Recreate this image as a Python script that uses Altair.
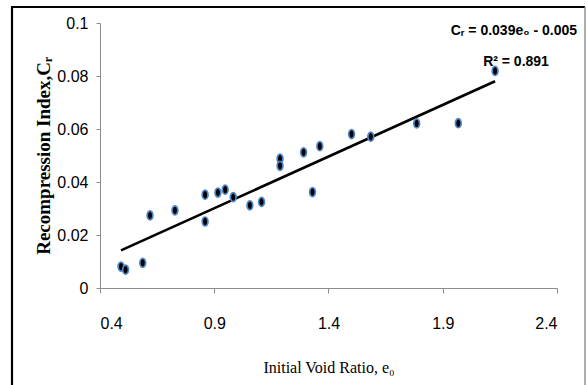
import altair as alt
import pandas as pd

# Initial void ratio and recompression index of the tested samples
e0 = [0.492, 0.512, 0.587, 0.619, 0.728, 0.860, 0.860, 0.916, 0.948, 0.983,
      1.056, 1.107, 1.188, 1.188, 1.291, 1.330, 1.362, 1.501, 1.585, 1.786,
      1.968, 2.129]
cr = [0.0081, 0.0069, 0.0095, 0.0274, 0.0293, 0.0352, 0.0251, 0.0360, 0.0371, 0.0343,
      0.0312, 0.0325, 0.0488, 0.0461, 0.0512, 0.0362, 0.0535, 0.0581, 0.0571, 0.0621,
      0.0622, 0.0819]

# Linear fit  Cr = slope * e0 + intercept
slope = 0.039
intercept = -0.005
eq_label = "Cᵣ = 0.039e₀ - 0.005"
r2_label = "R² = 0.891"

x_ticks = [0.4, 0.9, 1.4, 1.9, 2.4]
y_ticks = [0, 0.02, 0.04, 0.06, 0.08, 0.1]

pts = pd.DataFrame({"e0": e0, "cr": cr})
fit = pd.DataFrame({"e0": [min(e0), max(e0)]})
fit["cr"] = slope * fit["e0"] + intercept

W, H = 457, 265
LEFT, TOP = 100, 23

sans = "Liberation Sans, Arial, sans-serif"
serif = "Liberation Serif, Times New Roman, serif"

x_enc = alt.X("e0:Q", scale=alt.Scale(domain=[0.4, 2.4], nice=False, zero=False),
              axis=alt.Axis(values=x_ticks, format=".1f", title="Initial Void Ratio, e₀",
                            titleFont=serif, titleFontSize=16, titleFontWeight="normal",
                            titlePadding=28, labelPadding=22))
y_enc = alt.Y("cr:Q", scale=alt.Scale(domain=[0, 0.1], nice=False),
              axis=alt.Axis(values=y_ticks, format="~g", title="Recompression Index,Cᵣ",
                            titleFont=serif, titleFontSize=19, titleFontWeight="bold",
                            titlePadding=3, labelPadding=8))

trend = alt.Chart(fit).mark_line(color="black", strokeWidth=2.6).encode(x=x_enc, y=y_enc)

ellipse = "M0,-1.25 A0.8,1.25 0 1,1 0,1.25 A0.8,1.25 0 1,1 0,-1.25 Z"
dots = alt.Chart(pts).mark_point(
    shape=ellipse, filled=True, fill="black", stroke="#4f86c6",
    strokeWidth=1.7, opacity=1, size=52
).encode(x="e0:Q", y="cr:Q")

annot = pd.DataFrame({"t": [eq_label, r2_label]})
eq_text = alt.Chart(annot.iloc[[0]]).mark_text(
    font=sans, fontSize=14, fontWeight="bold", align="right", baseline="alphabetic",
    color="black"
).encode(text="t:N", x=alt.value(577 - LEFT), y=alt.value(35 - TOP))
r2_text = alt.Chart(annot.iloc[[1]]).mark_text(
    font=sans, fontSize=14, fontWeight="bold", align="center", baseline="alphabetic",
    color="black"
).encode(text="t:N", x=alt.value(516 - LEFT), y=alt.value(66 - TOP))

# Outer frame: dark left and top edges, light right edge
frame_df = pd.DataFrame({"k": [0]})
left_edge = alt.Chart(frame_df).mark_rule(color="black", strokeWidth=2.2).encode(
    x=alt.value(12 - LEFT), y=alt.value(7 - TOP), y2=alt.value(385 - TOP))
top_edge = alt.Chart(frame_df).mark_rule(color="black", strokeWidth=2.2).encode(
    x=alt.value(11 - LEFT), x2=alt.value(585 - LEFT), y=alt.value(7 - TOP))
right_edge = alt.Chart(frame_df).mark_rule(color="#8c8c8c", strokeWidth=1.4).encode(
    x=alt.value(585 - LEFT), y=alt.value(7 - TOP), y2=alt.value(385 - TOP))

chart = alt.layer(
    left_edge, top_edge, right_edge, trend, dots, eq_text, r2_text
).properties(
    width=W, height=H,
    autosize=alt.AutoSizeParams(type="none"),
    padding={"left": LEFT, "top": TOP, "right": 587 - LEFT - W, "bottom": 385 - TOP - H},
    background="white",
).configure_view(stroke=None).configure_axis(
    grid=False, domainColor="#8c8c8c", domainWidth=1, tickColor="#8c8c8c", tickSize=4,
    labelFont=sans, labelFontSize=16, labelColor="black", titleColor="black",
).configure_axisX(tickSize=5)

chart.save("out.html", embed_options={"renderer": "svg", "actions": False})
